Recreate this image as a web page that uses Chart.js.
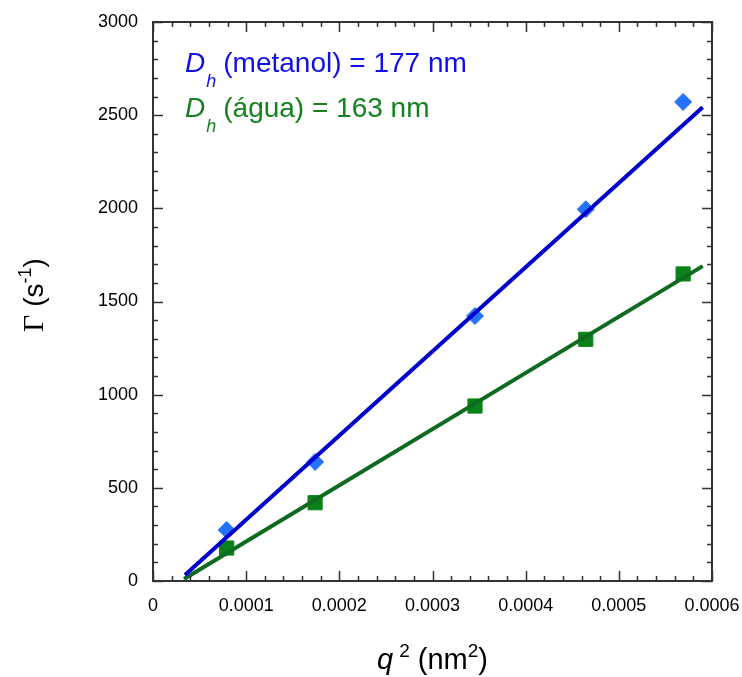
<!DOCTYPE html>
<html>
<head>
<meta charset="utf-8">
<script src="https://cdn.jsdelivr.net/npm/chart.js@4.4.1/dist/chart.umd.min.js"></script>
<style>
  html, body { margin: 0; padding: 0; background: #fff; }
  #wrap { width: 742px; height: 677px; position: relative; }
</style>
</head>
<body>
<div id="wrap"><canvas id="c" width="742" height="677"></canvas></div>
<script>
// ---- data ----
const qSq = [0.0000791, 0.000174, 0.0003456, 0.0004645, 0.000569];
const gammaMetanol = [274, 639, 1422, 1995, 2571];
const gammaAgua = [177, 420, 939, 1297, 1648];
const fitQMetanol = [0.0000343, 0.00059];
const fitMetanol = [32, 2542];
const fitQAgua = [0.0000333, 0.00059];
const fitAgua = [11, 1690];
const xTickValues = [0, 0.0001, 0.0002, 0.0003, 0.0004, 0.0005, 0.0006];
const yTickValues = [0, 500, 1000, 1500, 2000, 2500, 3000];

const toPts = (xs, ys) => xs.map((x, i) => ({ x: x, y: ys[i] }));

const SANS = '"Liberation Sans", Arial, sans-serif';
const SERIF = '"Liberation Serif", "Times New Roman", serif';

function drawRich(ctx, parts, cx, baseline) {
  let total = 0;
  parts.forEach(p => { ctx.font = p.font; p.w = ctx.measureText(p.t).width; total += p.w + (p.gap || 0); });
  let x = cx - total / 2;
  parts.forEach(p => {
    ctx.font = p.font;
    ctx.fillStyle = p.color || '#000';
    ctx.textAlign = 'left';
    ctx.textBaseline = 'alphabetic';
    ctx.fillText(p.t, x, baseline + (p.dy || 0));
    x += p.w + (p.gap || 0);
  });
}
function drawRichLeft(ctx, parts, x, baseline) {
  parts.forEach(p => {
    ctx.font = p.font;
    ctx.fillStyle = p.color || '#000';
    ctx.textAlign = 'left';
    ctx.textBaseline = 'alphabetic';
    ctx.fillText(p.t, x, baseline + (p.dy || 0));
    x += ctx.measureText(p.t).width + (p.gap || 0);
  });
}

const framePlugin = {
  id: 'frame',
  afterDraw(chart) {
    const ctx = chart.ctx;
    const a = chart.chartArea;
    const xs = chart.scales.x, ys = chart.scales.y;
    ctx.save();
    ctx.strokeStyle = '#333';
    ctx.lineWidth = 2;
    ctx.strokeRect(a.left, a.top, a.right - a.left, a.bottom - a.top);
    ctx.lineWidth = 1.5;
    ctx.beginPath();
    for (let k = 0; k <= 30; k++) {
      const v = k * 0.00002;
      const px = Math.round(xs.getPixelForValue(v)) + 0.5;
      const len = (k % 5 === 0) ? 10 : 5;
      ctx.moveTo(px, a.bottom); ctx.lineTo(px, a.bottom - len);
      ctx.moveTo(px, a.top); ctx.lineTo(px, a.top + len);
    }
    for (let k = 0; k <= 30; k++) {
      const v = k * 100;
      const py = Math.round(ys.getPixelForValue(v)) + 0.5;
      const len = (k % 5 === 0) ? 10 : 5;
      ctx.moveTo(a.left, py); ctx.lineTo(a.left + len, py);
      ctx.moveTo(a.right, py); ctx.lineTo(a.right - len, py);
    }
    ctx.stroke();

    drawRichLeft(ctx, [
      { t: 'D', font: 'italic 28px ' + SANS, color: '#1010e6', gap: 1 },
      { t: 'h', font: 'italic 18px ' + SANS, color: '#1010e6', dy: 15, gap: 7 },
      { t: '(metanol) = 177 nm', font: '28px ' + SANS, color: '#1010e6' }
    ], 185, 72);
    drawRichLeft(ctx, [
      { t: 'D', font: 'italic 28px ' + SANS, color: '#13821f', gap: 1 },
      { t: 'h', font: 'italic 18px ' + SANS, color: '#13821f', dy: 15, gap: 7 },
      { t: '(água) = 163 nm', font: '28px ' + SANS, color: '#13821f' }
    ], 185, 117);

    drawRich(ctx, [
      { t: 'q', font: 'italic 29px ' + SANS, gap: 6 },
      { t: '2', font: '19px ' + SANS, dy: -12, gap: 0 },
      { t: ' (nm', font: '29px ' + SANS },
      { t: '2', font: '19px ' + SANS, dy: -12 },
      { t: ')', font: '29px ' + SANS }
    ], (a.left + a.right) / 2, 669);

    ctx.save();
    ctx.translate(43, 295);
    ctx.rotate(-Math.PI / 2);
    drawRich(ctx, [
      { t: 'Γ', font: '30px ' + SERIF },
      { t: ' (s', font: '28px ' + SANS },
      { t: '-1', font: '18px ' + SANS, dy: -12 },
      { t: ')', font: '28px ' + SANS }
    ], 0, 0);
    ctx.restore();
    ctx.restore();
  }
};

new Chart(document.getElementById('c'), {
  type: 'scatter',
  data: {
    datasets: [
      { label: 'fit metanol', data: toPts(fitQMetanol, fitMetanol), showLine: true, borderColor: '#0000cd', borderWidth: 4, pointRadius: 0, fill: false },
      { label: 'fit água', data: toPts(fitQAgua, fitAgua), showLine: true, borderColor: '#0e6a1e', borderWidth: 4, pointRadius: 0, fill: false },
      { label: 'metanol', data: toPts(qSq, gammaMetanol), pointStyle: 'rectRot', pointRadius: 8.5, backgroundColor: '#2473fa', borderColor: '#2473fa', borderWidth: 1 },
      { label: 'água', data: toPts(qSq, gammaAgua), pointStyle: 'rect', pointRadius: 10, backgroundColor: '#0a8219', borderColor: '#0a8219', borderWidth: 1 }
    ]
  },
  options: {
    responsive: false,
    animation: false,
    events: [],
    layout: { padding: { top: 22, right: 30, left: 0, bottom: 0 } },
    plugins: { legend: { display: false }, tooltip: { enabled: false } },
    scales: {
      x: {
        type: 'linear', min: 0, max: 0.0006,
        afterBuildTicks: s => { s.ticks = xTickValues.map(v => ({ value: v })); },
        ticks: {
          font: { size: 18, family: SANS }, color: '#000', padding: 14, maxRotation: 0,
          callback: v => (v === 0 ? '0' : v.toFixed(4))
        },
        grid: { display: false, drawTicks: false },
        border: { display: false },
        afterFit: s => { s.height = 96; s.paddingLeft = 0; s.paddingRight = 0; }
      },
      y: {
        type: 'linear', min: 0, max: 3000,
        afterBuildTicks: s => { s.ticks = yTickValues.map(v => ({ value: v })); },
        ticks: { font: { size: 18, family: SANS }, color: '#000', padding: 15, callback: v => String(v) },
        grid: { display: false, drawTicks: false },
        border: { display: false },
        afterFit: s => { s.width = 153; s.paddingTop = 0; s.paddingBottom = 0; }
      }
    }
  },
  plugins: [framePlugin]
});
</script>
</body>
</html>
